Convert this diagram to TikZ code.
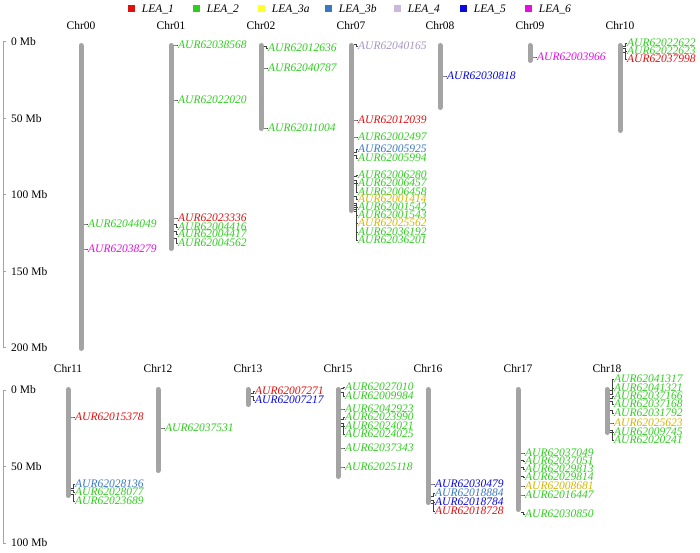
\documentclass[tikz,border=0pt]{standalone}
\usepackage{fontspec}
\setmainfont{Liberation Serif}
\usetikzlibrary{positioning}

\definecolor{leaA}{HTML}{E01010}
\definecolor{leaB}{HTML}{30CC20}
\definecolor{leaC}{HTML}{FFFF30}
\definecolor{leaCt}{HTML}{D8B400}
\definecolor{leaD}{HTML}{3A78C4}
\definecolor{leaE}{HTML}{CBB8DC}
\definecolor{leaEt}{HTML}{A496C4}
\definecolor{leaF}{HTML}{0808E0}
\definecolor{leaG}{HTML}{E010E0}
\definecolor{chromgray}{HTML}{A4A4A4}

\tikzset{
  chrom/.style={draw=chromgray, line width=5pt, line cap=round},
  chrname/.style={inner sep=0pt, font=\fontsize{11.5}{12}\selectfont},
  lbl/.style={anchor=west, inner sep=0pt, font=\fontsize{11.5}{12}\selectfont\itshape},
  conn/.style={draw=black!75, line width=0.5pt},
  axis/.style={draw=chromgray, line width=1pt},
  ticklbl/.style={anchor=west, inner sep=0pt, font=\fontsize{11.5}{12}\selectfont},
  legsq/.style={minimum size=7pt, inner sep=0pt},
  legtxt/.style={anchor=west, inner sep=0pt, font=\fontsize{11.5}{12}\selectfont\itshape}
}

% gene: chromosome x, gene y, label y, colour, name
\newcommand{\gene}[5]{%
  \coordinate (g#5) at (#1+2.5,#2);
  \node[lbl, text=#4] (#5) at (#1+7,#3) {#5};
  \draw[conn] (g#5) -- ++(3,0) |- (#5.west);
}

\begin{document}
\begin{tikzpicture}[x=1pt,y=-1pt]
  \useasboundingbox (0,0) rectangle (700,553);

  %Legend
  \node[legsq, fill=leaA] (sqA) at (131,9) {};
  \node[legsq, fill=leaB] (sqB) at (196,9) {};
  \node[legsq, fill=leaC] (sqC) at (261,9) {};
  \node[legsq, fill=leaD] (sqD) at (328,9) {};
  \node[legsq, fill=leaE] (sqE) at (397,9) {};
  \node[legsq, fill=leaF] (sqF) at (463,9) {};
  \node[legsq, fill=leaG] (sqG) at (528,9) {};
  \node[legtxt, right=7pt of sqA] (ltA) {LEA\_1};
  \node[legtxt, right=7pt of sqB] (ltB) {LEA\_2};
  \node[legtxt, right=7pt of sqC] (ltC) {LEA\_3a};
  \node[legtxt, right=7pt of sqD] (ltD) {LEA\_3b};
  \node[legtxt, right=7pt of sqE] (ltE) {LEA\_4};
  \node[legtxt, right=7pt of sqF] (ltF) {LEA\_5};
  \node[legtxt, right=7pt of sqG] (ltG) {LEA\_6};

  %Scales
  \draw[axis] (3,42) -- (3,347.5);
  \foreach \v in {0,50,100,150,200} {
    \draw[axis] (3,42+1.5275*\v) -- ++(2.5,0);
    \node[ticklbl] (top\v) at (11,42+1.5275*\v) {\v{} Mb};
  }
  \draw[axis] (3,390) -- (3,543);
  \foreach \v in {0,50,100} {
    \draw[axis] (3,390+1.53*\v) -- ++(2.5,0);
    \node[ticklbl] (bot\v) at (11,390+1.53*\v) {\v{} Mb};
  }

  %Chromosomes
  \node[chrname] (chr00) at (81,26)  {Chr00};
  \node[chrname] (chr01) at (171,26) {Chr01};
  \node[chrname] (chr02) at (261,26) {Chr02};
  \node[chrname] (chr07) at (351,26) {Chr07};
  \node[chrname] (chr08) at (440,26) {Chr08};
  \node[chrname] (chr09) at (530,26) {Chr09};
  \node[chrname] (chr10) at (620,26) {Chr10};
  \node[chrname] (chr11) at (68,369)  {Chr11};
  \node[chrname] (chr12) at (158,369) {Chr12};
  \node[chrname] (chr13) at (248,369) {Chr13};
  \node[chrname] (chr15) at (338,369) {Chr15};
  \node[chrname] (chr16) at (428,369) {Chr16};
  \node[chrname] (chr17) at (518,369) {Chr17};
  \node[chrname] (chr18) at (607,369) {Chr18};

  \draw[chrom] (81,45.5)  -- (81,348.5);
  \draw[chrom] (171,45.5) -- (171,248.5);
  \draw[chrom] (261,45.5) -- (261,128.5);
  \draw[chrom] (351,45.5) -- (351,210.5);
  \draw[chrom] (440,45.5) -- (440,107.5);
  \draw[chrom] (530,45.5) -- (530,60.5);
  \draw[chrom] (620,45.5) -- (620,130.5);
  \draw[chrom] (68,389.5)  -- (68,495.5);
  \draw[chrom] (158,389.5) -- (158,470.5);
  \draw[chrom] (248,389.5) -- (248,404.5);
  \draw[chrom] (338,389.5) -- (338,476.5);
  \draw[chrom] (428,389.5) -- (428,502.5);
  \draw[chrom] (518,389.5) -- (518,509.5);
  \draw[chrom] (607,389.5) -- (607,432.5);

  %Genes
  \gene{81}{224}{224}{leaB}{AUR62044049}
  \gene{81}{249}{249}{leaG}{AUR62038279}

  \gene{171}{45}{45}{leaB}{AUR62038568}
  \gene{171}{100}{100}{leaB}{AUR62022020}
  \gene{171}{218}{218}{leaA}{AUR62023336}
  \gene{171}{224}{227}{leaB}{AUR62004416}
  \gene{171}{231}{234}{leaB}{AUR62004417}
  \gene{171}{238}{243}{leaB}{AUR62004562}

  \gene{261}{46}{48}{leaB}{AUR62012636}
  \gene{261}{68}{68}{leaB}{AUR62040787}
  \gene{261}{128}{128}{leaB}{AUR62011004}

  \gene{351}{44}{46}{leaEt}{AUR62040165}
  \gene{351}{120}{120}{leaA}{AUR62012039}
  \gene{351}{137}{137}{leaB}{AUR62002497}
  \gene{351}{152}{149}{leaD}{AUR62005925}
  \gene{351}{155}{158}{leaB}{AUR62005994}
  \gene{351}{176}{175}{leaB}{AUR62006280}
  \gene{351}{180}{183}{leaB}{AUR62006457}
  \gene{351}{183}{192}{leaB}{AUR62006458}
  \gene{351}{196}{199}{leaCt}{AUR62001414}
  \gene{351}{203}{207}{leaB}{AUR62001542}
  \gene{351}{205}{215}{leaB}{AUR62001543}
  \gene{351}{207}{223}{leaCt}{AUR62025562}
  \gene{351}{209}{232}{leaB}{AUR62036192}
  \gene{351}{211}{240}{leaB}{AUR62036201}

  \gene{440}{76}{76}{leaF}{AUR62030818}
  \gene{530}{57}{57}{leaG}{AUR62003966}

  \gene{620}{46}{43}{leaB}{AUR62022622}
  \gene{620}{48}{51}{leaB}{AUR62022623}
  \gene{620}{52}{59}{leaA}{AUR62037998}

  \gene{68}{417}{417}{leaA}{AUR62015378}
  \gene{68}{488}{484}{leaD}{AUR62028136}
  \gene{68}{490}{492}{leaB}{AUR62028077}
  \gene{68}{494}{501}{leaB}{AUR62023689}

  \gene{158}{428}{428}{leaB}{AUR62037531}

  \gene{248}{393}{391}{leaA}{AUR62007271}
  \gene{248}{396}{400}{leaF}{AUR62007217}

  \gene{338}{388}{387}{leaB}{AUR62027010}
  \gene{338}{392}{396}{leaB}{AUR62009984}
  \gene{338}{409}{409}{leaB}{AUR62042923}
  \gene{338}{419}{417}{leaB}{AUR62023990}
  \gene{338}{423}{426}{leaB}{AUR62024021}
  \gene{338}{426}{434}{leaB}{AUR62024025}
  \gene{338}{448}{448}{leaB}{AUR62037343}
  \gene{338}{467}{467}{leaB}{AUR62025118}

  \gene{428}{484}{484}{leaF}{AUR62030479}
  \gene{428}{496}{493}{leaD}{AUR62018884}
  \gene{428}{500}{502}{leaF}{AUR62018784}
  \gene{428}{503}{511}{leaA}{AUR62018728}

  \gene{518}{453}{453}{leaB}{AUR62037049}
  \gene{518}{460}{461}{leaB}{AUR62037051}
  \gene{518}{467}{469}{leaB}{AUR62029813}
  \gene{518}{476}{477}{leaB}{AUR62029814}
  \gene{518}{486}{486}{leaCt}{AUR62008681}
  \gene{518}{495}{495}{leaB}{AUR62016447}
  \gene{518}{512}{514}{leaB}{AUR62030850}

  \gene{607}{390}{379}{leaB}{AUR62041317}
  \gene{607}{394}{388}{leaB}{AUR62041321}
  \gene{607}{398}{396}{leaB}{AUR62037166}
  \gene{607}{401}{404}{leaB}{AUR62037168}
  \gene{607}{410}{413}{leaB}{AUR62031792}
  \gene{607}{423}{423}{leaCt}{AUR62025623}
  \gene{607}{430}{432}{leaB}{AUR62009745}
  \gene{607}{432}{440}{leaB}{AUR62020241}
\end{tikzpicture}
\end{document}
